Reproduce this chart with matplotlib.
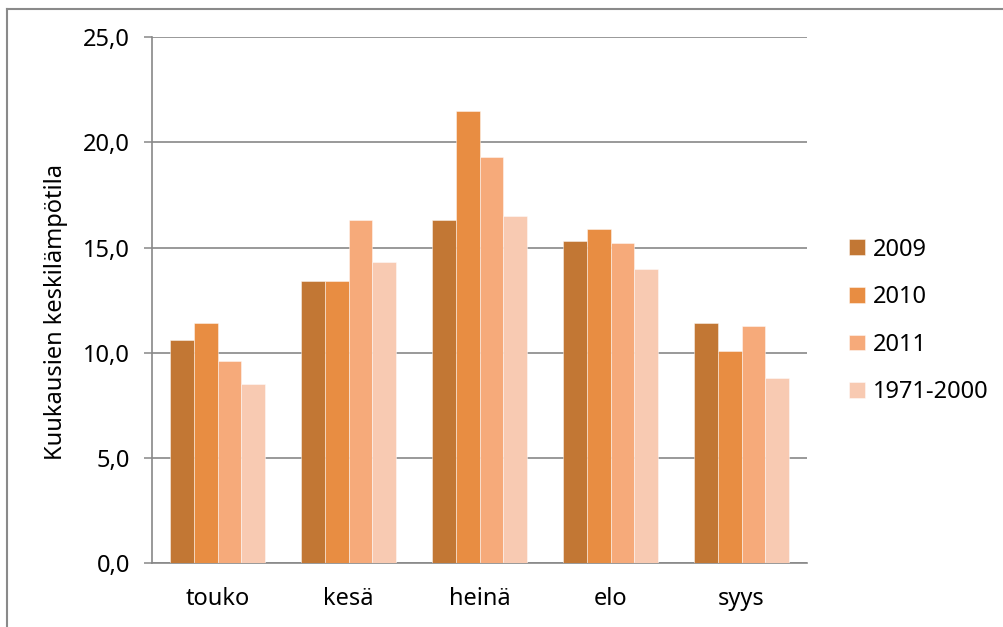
import matplotlib.pyplot as plt
import numpy as np
from matplotlib.lines import Line2D

plt.rcParams['font.family'] = ['Noto Sans', 'DejaVu Sans']

# monthly mean temperatures
months = ['touko', 'kesä', 'heinä', 'elo', 'syys']
series_names = ['2009', '2010', '2011', '1971-2000']
t2009 = [10.6, 13.4, 16.3, 15.3, 11.4]
t2010 = [11.4, 13.4, 21.5, 15.9, 10.1]
t2011 = [9.6, 16.3, 19.3, 15.2, 11.3]
t1971_2000 = [8.5, 14.3, 16.5, 14.0, 8.8]
yticks = [0, 5, 10, 15, 20, 25]

colors = ['#c27734', '#e88d42', '#f6aa7a', '#f8cab2']
grid_col = '#888888'

fig = plt.figure(figsize=(10.04, 6.27), dpi=100)
ax = fig.add_axes([0.1514, 0.1013, 0.6524, 0.8397])

x = np.arange(len(months))
w = 0.181
for i, vals in enumerate([t2009, t2010, t2011, t1971_2000]):
    ax.bar(x + (i - 1.5) * w, vals, width=w, color=colors[i],
           edgecolor=(1, 1, 1, 0.45), linewidth=0.7,
           label=series_names[i], zorder=3)

ax.set_xlim(-0.5, len(months) - 0.5)
ax.set_ylim(0, 25)
ax.set_yticks(yticks)
# Finnish decimal comma
ax.set_yticklabels([('%.1f' % v).replace('.', ',') for v in yticks], fontsize=17)
ax.yaxis.grid(True, color=grid_col, linewidth=1.2, zorder=0)
ax.set_xticks(x)
ax.set_xticklabels(months, fontsize=17)
ax.tick_params(axis='x', length=0, pad=17)
ax.tick_params(axis='y', length=6, width=1.1, color=grid_col, pad=10)

for s in ['top', 'right']:
    ax.spines[s].set_visible(False)
for s in ['left', 'bottom']:
    ax.spines[s].set_color(grid_col)
    ax.spines[s].set_linewidth(1.2)

ax.set_ylabel('Kuukausien keskilämpötila', fontsize=17)
ax.yaxis.set_label_coords(-0.128, 0.477)

fig.legend(loc='center left', bbox_to_anchor=(0.846, 0.488), frameon=False,
           fontsize=17, handlelength=0.65, handleheight=0.65,
           handletextpad=0.35, labelspacing=1.0, borderpad=0,
           borderaxespad=0)

# outer frame (top and left edges)
fig.add_artist(Line2D([7 / 1004, 1], [1 - 8.5 / 627, 1 - 8.5 / 627],
                      transform=fig.transFigure, color='#8a8a8a', linewidth=1.5))
fig.add_artist(Line2D([7 / 1004, 7 / 1004], [0, 1 - 8.5 / 627],
                      transform=fig.transFigure, color='#8a8a8a', linewidth=1.5))

fig.savefig('out.png', dpi=100)
